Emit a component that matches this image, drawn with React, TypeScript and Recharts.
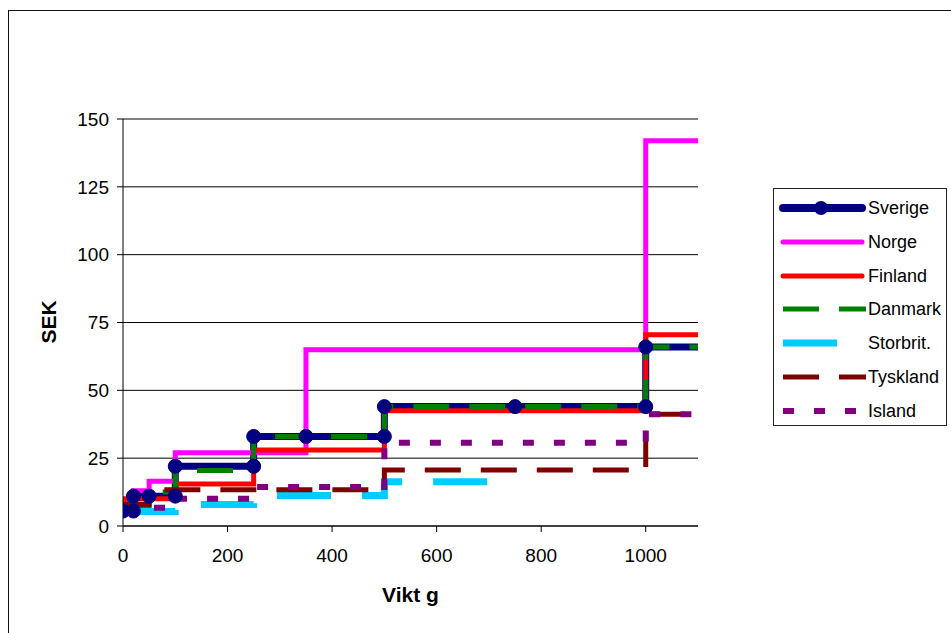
import React from 'react';
import { LineChart, Line, XAxis, YAxis, CartesianGrid } from 'recharts';

// ---- data (weight in g, price in SEK) ----
const xTicks = [0, 200, 400, 600, 800, 1000];
const yTicks = [0, 25, 50, 75, 100, 125, 150];
const seriesNames = ['Sverige', 'Norge', 'Finland', 'Danmark', 'Storbrit.', 'Tyskland', 'Island'];

const sverigeWeights = [0, 20, 20, 50, 100, 100, 250, 250, 350, 500, 500, 750, 1000, 1000, 2000];
const sverigePrices = [5.5, 5.5, 11, 11, 11, 22, 22, 33, 33, 33, 44, 44, 44, 66, 66];

const norgeWeights = [0, 20, 20, 50, 50, 100, 100, 350, 350, 1000, 1000, 2000];
const norgePrices = [8.5, 8.5, 13, 13, 16.5, 16.5, 27, 27, 65, 65, 142, 142];

const finlandWeights = [0, 100, 100, 250, 250, 500, 500, 1000, 1000, 2000];
const finlandPrices = [10, 10, 15.5, 15.5, 28, 28, 42.5, 42.5, 70.5, 70.5];

const danmarkWeights = [0, 50, 50, 100, 100, 250, 250, 500, 500, 1000, 1000, 2000];
const danmarkPrices = [6.5, 6.5, 12.5, 12.5, 20.5, 20.5, 33, 33, 44, 44, 66, 66];

const storbritWeights = [0, 100, 100, 250, 250, 500, 500, 700];
const storbritPrices = [5.3, 5.3, 7.9, 7.9, 11.2, 11.2, 16.3, 16.3];

const tysklandWeights = [0, 50, 50, 500, 500, 1000, 1000, 2000];
const tysklandPrices = [8, 8, 13.4, 13.4, 20.6, 20.6, 41.2, 41.2];

const islandWeights = [0, 100, 100, 250, 250, 500, 500, 1000, 1000, 2000];
const islandPrices = [6.7, 6.7, 10, 10, 14.4, 14.4, 30.7, 30.7, 41.2, 41.2];

const toPoints = (xs: number[], ys: number[]) => xs.map((x, i) => ({ x, y: ys[i] }));

const seriesData = [
  toPoints(sverigeWeights, sverigePrices),
  toPoints(norgeWeights, norgePrices),
  toPoints(finlandWeights, finlandPrices),
  toPoints(danmarkWeights, danmarkPrices),
  toPoints(storbritWeights, storbritPrices),
  toPoints(tysklandWeights, tysklandPrices),
  toPoints(islandWeights, islandPrices),
];

// ---- styles ----
const FONT = '"Liberation Sans", Arial, sans-serif';
const seriesStyles = [
  { color: '#000080', width: 7, dash: undefined as string | undefined },
  { color: '#FF00FF', width: 5, dash: undefined },
  { color: '#FF0000', width: 5, dash: undefined },
  { color: '#008000', width: 5, dash: '36 20' },
  { color: '#00CCFF', width: 7, dash: '54 31' },
  { color: '#800000', width: 5, dash: '36 20' },
  { color: '#800080', width: 6, dash: '11 20' },
];

const LegendBox = () => (
  <div
    style={{
      position: 'absolute',
      left: 773,
      top: 188,
      width: 174,
      height: 238,
      border: '1px solid #222',
      boxSizing: 'border-box',
      background: '#fff',
      fontFamily: FONT,
    }}
  >
    {seriesNames.map((name, i) => {
      const st = seriesStyles[i];
      const cy = 19 + i * 33.8;
      return (
        <div key={name} style={{ position: 'absolute', left: 0, top: cy - 17, width: 172, height: 34 }}>
          <svg width={92} height={34} style={{ position: 'absolute', left: 0, top: 0 }}>
            {st.dash ? (
              <line x1={9} y1={17} x2={92} y2={17} stroke={st.color} strokeWidth={st.width} strokeDasharray={st.dash} />
            ) : (
              <line x1={9} y1={17} x2={88} y2={17} stroke={st.color} strokeWidth={i === 0 ? 8 : 5} strokeLinecap="round" />
            )}
            {i === 0 && <circle cx={47} cy={17} r={7} fill="#000080" />}
          </svg>
          <span
            style={{
              position: 'absolute',
              left: 94,
              top: 0,
              lineHeight: '34px',
              fontSize: 18,
              color: '#000',
              whiteSpace: 'nowrap',
            }}
          >
            {name}
          </span>
        </div>
      );
    })}
  </div>
);

export default function App() {
  return (
    <div
      style={{
        position: 'absolute',
        left: 0,
        top: 0,
        width: 951,
        height: 633,
        overflow: 'hidden',
        background: '#fff',
        fontFamily: FONT,
      }}
    >
      <div
        style={{
          position: 'absolute',
          left: 8,
          top: 10,
          width: 960,
          height: 640,
          borderLeft: '1.5px solid #111',
          borderTop: '1.5px solid #111',
        }}
      />
      <div style={{ position: 'absolute', left: 0, top: 0 }}>
        <LineChart
          width={951}
          height={633}
          margin={{ top: 119, right: 253, bottom: 77, left: 63 }}
        >
          <CartesianGrid vertical={false} stroke="#000" strokeWidth={1} />
          <XAxis
            type="number"
            dataKey="x"
            domain={[0, 1100]}
            allowDataOverflow
            ticks={xTicks}
            interval={0}
            height={30}
            tickSize={6}
            tickMargin={17}
            axisLine={{ stroke: '#000', strokeWidth: 1 }}
            tickLine={{ stroke: '#000' }}
            tick={{ fill: '#000', fontSize: 19, fontFamily: FONT }}
            label={{
              value: 'Vikt g',
              position: 'bottom',
              offset: 31,
              style: { fill: '#000', fontSize: 21, fontWeight: 'bold', fontFamily: FONT },
            }}
          />
          <YAxis
            type="number"
            dataKey="y"
            domain={[0, 150]}
            allowDataOverflow
            ticks={yTicks}
            interval={0}
            width={60}
            tickSize={6}
            tickMargin={8}
            axisLine={{ stroke: '#000', strokeWidth: 1 }}
            tickLine={{ stroke: '#000' }}
            tick={{ fill: '#000', fontSize: 19, fontFamily: FONT }}
            label={{
              content: () => (
                <text
                  x={56}
                  y={322}
                  transform="rotate(-90 56 322)"
                  textAnchor="middle"
                  fill="#000"
                  fontSize={21}
                  fontWeight="bold"
                  fontFamily={FONT}
                >
                  SEK
                </text>
              ),
            }}
          />
          {seriesData.map((d, i) => (
            <Line
              key={seriesNames[i]}
              name={seriesNames[i]}
              data={d}
              dataKey="y"
              type="linear"
              stroke={seriesStyles[i].color}
              strokeWidth={seriesStyles[i].width}
              strokeDasharray={seriesStyles[i].dash}
              strokeLinejoin="miter"
              dot={false}
              activeDot={false}
              isAnimationActive={false}
            />
          ))}
          <Line
            key="sverige-markers"
            name="Sverige markers"
            data={seriesData[0]}
            dataKey="y"
            stroke="none"
            legendType="none"
            dot={{ r: 7, fill: '#000080', stroke: '#000080', strokeWidth: 1 }}
            activeDot={false}
            isAnimationActive={false}
          />
        </LineChart>
      </div>
      <LegendBox />
    </div>
  );
}
